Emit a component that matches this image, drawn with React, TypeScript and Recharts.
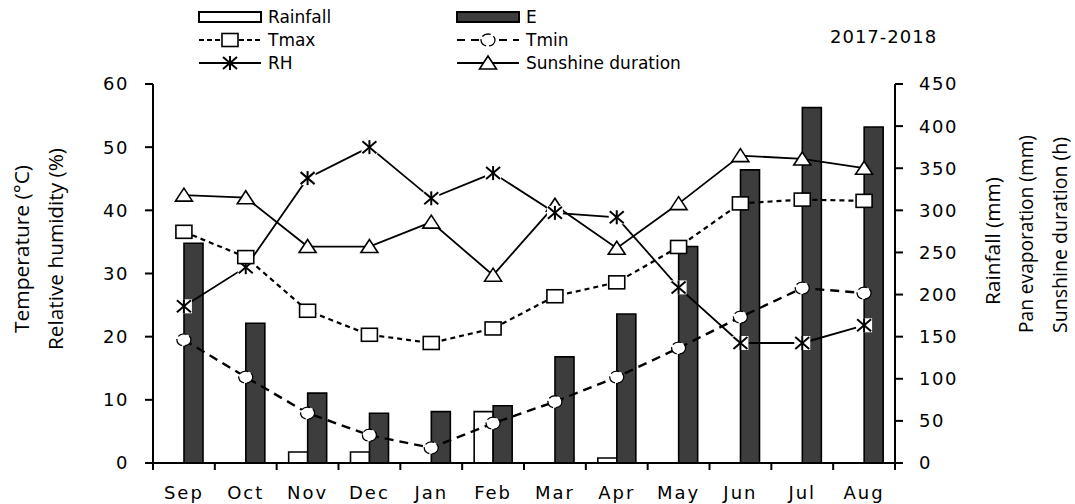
import React from "react";
import { ComposedChart, Bar, Line, XAxis, YAxis, Legend } from "recharts";

// monthly values, Sep 2017 - Aug 2018
const months = ["Sep", "Oct", "Nov", "Dec", "Jan", "Feb", "Mar", "Apr", "May", "Jun", "Jul", "Aug"];
const rainfall = [0, 0, 13, 13, 0, 61, 0, 6, 0, 0, 0, 0];
const evaporation = [261, 166, 83, 59, 61, 68, 126, 177, 257, 348, 422, 399];
const tmax = [36.6, 32.6, 24.1, 20.3, 19.0, 21.3, 26.4, 28.6, 34.2, 41.1, 41.7, 41.5];
const tmin = [19.5, 13.6, 7.9, 4.4, 2.4, 6.3, 9.7, 13.6, 18.2, 23.1, 27.7, 26.9];
const rh = [24.8, 31.0, 45.1, 50.0, 41.9, 45.9, 39.6, 38.9, 27.8, 19.0, 19.0, 21.8];
const sunshine = [318, 315, 257, 257, 286, 223, 306, 255, 308, 365, 361, 350];

const leftTicks = [0, 10, 20, 30, 40, 50, 60];
const rightTicks = [0, 50, 100, 150, 200, 250, 300, 350, 400, 450];

const data = months.map((month, i) => ({
  month,
  rainfall: rainfall[i],
  e: evaporation[i],
  tmax: tmax[i],
  tmin: tmin[i],
  rh: rh[i],
  sunshine: sunshine[i],
}));

const FONT = "'DejaVu Sans', Verdana, sans-serif";
const TITLE_FONT = "'Open Sans', 'Noto Sans', sans-serif";
const PLOT_WIDTH = 742;
const BAND = PLOT_WIDTH / months.length;
const BAR_DARK = "#3d3d3d";

function SquareMark({ cx, cy }: { cx?: number; cy?: number }) {
  if (cx == null || cy == null) return null;
  return <rect x={cx - 8} y={cy - 6.5} width={16} height={13} fill="#fff" stroke="#000" strokeWidth={1.6} />;
}

function TriangleMark({ cx, cy }: { cx?: number; cy?: number }) {
  if (cx == null || cy == null) return null;
  return (
    <polygon
      points={`${cx},${cy - 7} ${cx + 8.5},${cy + 6} ${cx - 8.5},${cy + 6}`}
      fill="#fff"
      stroke="#000"
      strokeWidth={1.6}
    />
  );
}

// asterisk marker; the white box behind it only shows over the dark bars
function StarMark({ cx, cy, boxed = true }: { cx?: number; cy?: number; boxed?: boolean }) {
  if (cx == null || cy == null) return null;
  return (
    <g>
      {boxed && <rect x={cx - 8} y={cy - 7} width={16} height={14} fill="#fff" />}
      <g stroke="#000" strokeWidth={2}>
        <line x1={cx - 7} y1={cy - 6} x2={cx + 7} y2={cy + 6} />
        <line x1={cx - 7} y1={cy + 6} x2={cx + 7} y2={cy - 6} />
        <line x1={cx} y1={cy - 7} x2={cx} y2={cy + 7} />
      </g>
    </g>
  );
}

function RoundMark({ cx, cy }: { cx?: number; cy?: number }) {
  if (cx == null || cy == null) return null;
  return <ellipse cx={cx} cy={cy} rx={7} ry={6} fill="#fff" stroke="#000" strokeWidth={1.3} strokeDasharray="9 3" />;
}

function MonthTick(props: any) {
  const { x, y, payload, index } = props;
  const last = index === months.length - 1;
  return (
    <g>
      <line x1={x - BAND / 2} x2={x - BAND / 2} y1={y} y2={y + 7} stroke="#000" strokeWidth={2} />
      {last && <line x1={x + BAND / 2} x2={x + BAND / 2} y1={y} y2={y + 7} stroke="#000" strokeWidth={2} />}
      <text x={x} y={y + 36} textAnchor="middle" fontFamily={FONT} fontSize={18} letterSpacing={2} fill="#000">
        {payload.value}
      </text>
    </g>
  );
}

function LeftTitle() {
  return (
    <g fontFamily={TITLE_FONT} fontSize={20} fill="#000">
      <text transform="translate(29,249) rotate(-90)" textAnchor="middle" textLength={168} lengthAdjust="spacingAndGlyphs">
        Temperature (°C)
      </text>
      <text transform="translate(63,249) rotate(-90)" textAnchor="middle" textLength={202} lengthAdjust="spacingAndGlyphs">
        Relative humidity (%)
      </text>
    </g>
  );
}

function RightTitle() {
  return (
    <g fontFamily={TITLE_FONT} fontSize={20} fill="#000">
      <text transform="translate(1000,241) rotate(-90)" textAnchor="middle" textLength={128} lengthAdjust="spacingAndGlyphs">
        Rainfall (mm)
      </text>
      <text transform="translate(1033,234) rotate(-90)" textAnchor="middle" textLength={198} lengthAdjust="spacingAndGlyphs">
        Pan evaporation (mm)
      </text>
      <text transform="translate(1067,235) rotate(-90)" textAnchor="middle" textLength={196} lengthAdjust="spacingAndGlyphs">
        Sunshine duration (h)
      </text>
    </g>
  );
}

function ChartLegend() {
  const c1 = 199;
  const c2 = 457;
  const w = 62;
  const rows = [17, 40, 63];
  const label = (x: number, y: number, s: string) => (
    <text x={x} y={y} dominantBaseline="central" fontFamily={FONT} fontSize={17} fill="#000">
      {s}
    </text>
  );
  return (
    <svg width={1075} height={80} style={{ display: "block" }}>
      <rect x={c1} y={rows[0] - 5} width={w} height={10} fill="#fff" stroke="#000" strokeWidth={2} />
      {label(c1 + w + 7, rows[0], "Rainfall")}
      <rect x={c2} y={rows[0] - 5} width={w} height={10} fill={BAR_DARK} stroke="#000" strokeWidth={2} />
      {label(c2 + w + 7, rows[0], "E")}

      <line x1={c1} x2={c1 + w} y1={rows[1]} y2={rows[1]} stroke="#000" strokeWidth={2} strokeDasharray="5 3" />
      <SquareMark cx={c1 + w / 2} cy={rows[1]} />
      {label(c1 + w + 7, rows[1], "Tmax")}
      <line x1={c2} x2={c2 + w} y1={rows[1]} y2={rows[1]} stroke="#000" strokeWidth={2} strokeDasharray="8 6" />
      <RoundMark cx={c2 + w / 2} cy={rows[1]} />
      {label(c2 + w + 7, rows[1], "Tmin")}

      <line x1={c1} x2={c1 + w} y1={rows[2]} y2={rows[2]} stroke="#000" strokeWidth={1.8} />
      <StarMark cx={c1 + w / 2} cy={rows[2]} boxed={false} />
      {label(c1 + w + 7, rows[2], "RH")}
      <line x1={c2} x2={c2 + w} y1={rows[2]} y2={rows[2]} stroke="#000" strokeWidth={1.8} />
      <TriangleMark cx={c2 + w / 2} cy={rows[2]} />
      {label(c2 + w + 7, rows[2], "Sunshine duration")}

      <text x={830} y={36} dominantBaseline="central" fontFamily={FONT} fontSize={18} letterSpacing={1} fill="#000">
        2017-2018
      </text>
    </svg>
  );
}

const tickStyle = { fontSize: 18, fill: "#000", fontFamily: FONT, letterSpacing: 1.5 };

export default function App() {
  return (
    <div style={{ position: "absolute", left: 0, top: 0, width: 1075, height: 504, background: "#fff" }}>
      <ComposedChart
        width={1075}
        height={504}
        data={data}
        margin={{ top: 84, right: 120, bottom: 11, left: 93 }}
        barGap={0}
        barSize={19}
      >
        <XAxis
          dataKey="month"
          xAxisId="x"
          height={30}
          axisLine={{ stroke: "#000", strokeWidth: 2 }}
          tickLine={false}
          tickSize={0}
          tickMargin={0}
          interval={0}
          tick={<MonthTick />}
        />
        <YAxis
          yAxisId="left"
          width={60}
          domain={[0, 60]}
          ticks={leftTicks}
          interval={0}
          axisLine={{ stroke: "#000", strokeWidth: 2 }}
          tickLine={{ stroke: "#000", strokeWidth: 2 }}
          tickSize={8}
          tickMargin={16}
          tick={tickStyle}
          label={<LeftTitle />}
        />
        <YAxis
          yAxisId="right"
          orientation="right"
          width={60}
          domain={[0, 450]}
          ticks={rightTicks}
          interval={0}
          axisLine={{ stroke: "#000", strokeWidth: 2 }}
          tickLine={{ stroke: "#000", strokeWidth: 2 }}
          tickSize={8}
          tickMargin={16}
          tick={tickStyle}
          label={<RightTitle />}
        />
        <Legend
          layout="horizontal"
          verticalAlign="middle"
          align="center"
          content={<ChartLegend />}
          wrapperStyle={{ top: 0, left: 0, width: 1075, height: 80, pointerEvents: "none" }}
        />
        <Bar
          xAxisId="x"
          yAxisId="right"
          dataKey="rainfall"
          name="Rainfall"
          fill="#fff"
          stroke="#000"
          strokeWidth={1.6}
          isAnimationActive={false}
        />
        <Bar
          xAxisId="x"
          yAxisId="right"
          dataKey="e"
          name="E"
          fill={BAR_DARK}
          stroke="#000"
          strokeWidth={1.6}
          isAnimationActive={false}
        />
        <Line
          xAxisId="x"
          yAxisId="right"
          dataKey="sunshine"
          name="Sunshine duration"
          type="linear"
          stroke="#000"
          strokeWidth={1.8}
          dot={(p: any) => <TriangleMark key={`sun-${p.index}`} cx={p.cx} cy={p.cy} />}
          activeDot={false}
          isAnimationActive={false}
        />
        <Line
          xAxisId="x"
          yAxisId="left"
          dataKey="rh"
          name="RH"
          type="linear"
          stroke="#000"
          strokeWidth={1.8}
          dot={(p: any) => <StarMark key={`rh-${p.index}`} cx={p.cx} cy={p.cy} />}
          activeDot={false}
          isAnimationActive={false}
        />
        <Line
          xAxisId="x"
          yAxisId="left"
          dataKey="tmax"
          name="Tmax"
          type="linear"
          stroke="#000"
          strokeWidth={2.2}
          strokeDasharray="5 4"
          dot={(p: any) => <SquareMark key={`tmax-${p.index}`} cx={p.cx} cy={p.cy} />}
          activeDot={false}
          isAnimationActive={false}
        />
        <Line
          xAxisId="x"
          yAxisId="left"
          dataKey="tmin"
          name="Tmin"
          type="linear"
          stroke="#000"
          strokeWidth={2.4}
          strokeDasharray="9 6"
          dot={(p: any) => <RoundMark key={`tmin-${p.index}`} cx={p.cx} cy={p.cy} />}
          activeDot={false}
          isAnimationActive={false}
        />
      </ComposedChart>
    </div>
  );
}
